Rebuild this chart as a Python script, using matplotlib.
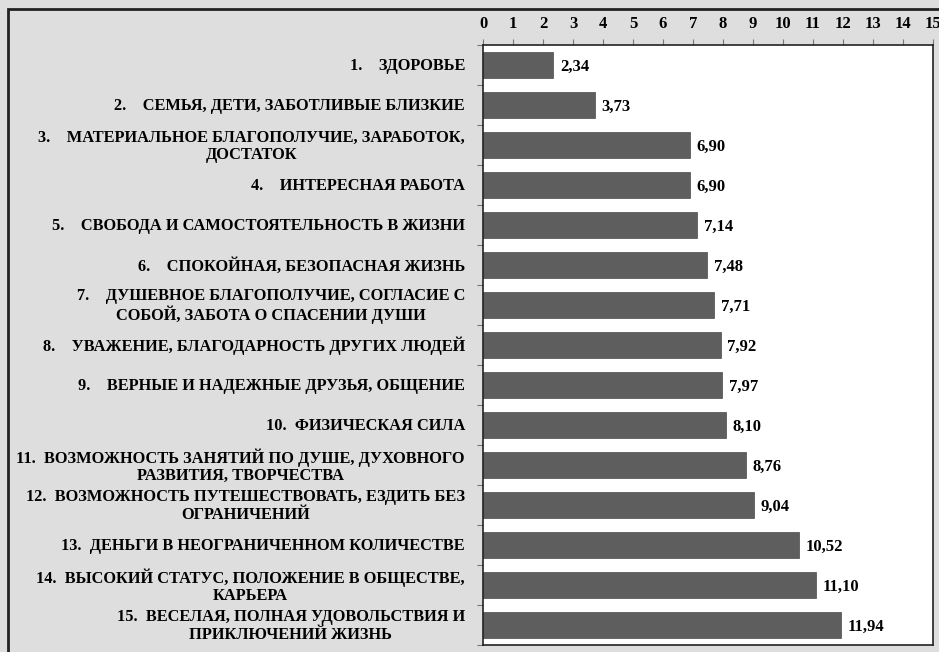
import matplotlib.pyplot as plt
from matplotlib.patches import Rectangle
import numpy as np

plt.rcParams['font.family'] = ['Liberation Serif', 'DejaVu Serif']
plt.rcParams['font.weight'] = 'bold'

# Data
labels = [
    '1.    ЗДОРОВЬЕ',
    '2.    СЕМЬЯ, ДЕТИ, ЗАБОТЛИВЫЕ БЛИЗКИЕ',
    '3.    МАТЕРИАЛЬНОЕ БЛАГОПОЛУЧИЕ, ЗАРАБОТОК,\nДОСТАТОК',
    '4.    ИНТЕРЕСНАЯ РАБОТА',
    '5.    СВОБОДА И САМОСТОЯТЕЛЬНОСТЬ В ЖИЗНИ',
    '6.    СПОКОЙНАЯ, БЕЗОПАСНАЯ ЖИЗНЬ',
    '7.    ДУШЕВНОЕ БЛАГОПОЛУЧИЕ, СОГЛАСИЕ С\nСОБОЙ, ЗАБОТА О СПАСЕНИИ ДУШИ',
    '8.    УВАЖЕНИЕ, БЛАГОДАРНОСТЬ ДРУГИХ ЛЮДЕЙ',
    '9.    ВЕРНЫЕ И НАДЕЖНЫЕ ДРУЗЬЯ, ОБЩЕНИЕ',
    '10.  ФИЗИЧЕСКАЯ СИЛА',
    '11.  ВОЗМОЖНОСТЬ ЗАНЯТИЙ ПО ДУШЕ, ДУХОВНОГО\nРАЗВИТИЯ, ТВОРЧЕСТВА',
    '12.  ВОЗМОЖНОСТЬ ПУТЕШЕСТВОВАТЬ, ЕЗДИТЬ БЕЗ\nОГРАНИЧЕНИЙ',
    '13.  ДЕНЬГИ В НЕОГРАНИЧЕННОМ КОЛИЧЕСТВЕ',
    '14.  ВЫСОКИЙ СТАТУС, ПОЛОЖЕНИЕ В ОБЩЕСТВЕ,\nКАРЬЕРА',
    '15.  ВЕСЕЛАЯ, ПОЛНАЯ УДОВОЛЬСТВИЯ И\nПРИКЛЮЧЕНИЙ ЖИЗНЬ',
]
values = [2.34, 3.73, 6.90, 6.90, 7.14, 7.48, 7.71, 7.92, 7.97, 8.10,
          8.76, 9.04, 10.52, 11.10, 11.94]

fig = plt.figure(figsize=(9.39, 6.52), dpi=100)
fig.patch.set_facecolor('#dedede')

# outer frame
fig.patches.append(Rectangle((8 / 939, -0.05), 1.1, 1 - 9 / 652 + 0.05,
                             transform=fig.transFigure, fill=False,
                             edgecolor='#222222', linewidth=2))

ax = fig.add_axes([483 / 939, 7 / 652, 450 / 939, 600 / 652])
ax.set_facecolor('white')

y = np.arange(len(values))
ax.barh(y, values, height=0.67, color='#5e5e5e', edgecolor='#4a4a4a', linewidth=0.5)

for yi, v in zip(y, values):
    ax.text(v + 0.22, yi + 0.05, f'{v:.2f}'.replace('.', ','), va='center', ha='left',
            fontsize=12, fontweight='bold')

ax.set_xlim(0, 15)
ax.set_ylim(len(values) - 0.5, -0.5)
ax.set_xticks(range(16))
ax.xaxis.tick_top()
ax.tick_params(axis='x', labelsize=12, length=4, pad=5, direction='out', color='#777777')
ax.set_yticks(np.arange(len(values) + 1) - 0.5)
ax.set_yticklabels([])
ax.tick_params(axis='y', length=4, direction='out', color='#777777')

for yi, lab in zip(y, labels):
    ax.text(-0.6, yi + 0.03, lab, ha='right', va='center', multialignment='center',
            fontsize=11.8, fontweight='bold', linespacing=1.12,
            transform=ax.transData)

for s in ax.spines.values():
    s.set_color('#222222')
    s.set_linewidth(1.2)

fig.savefig('out.png', dpi=100, facecolor=fig.get_facecolor())
